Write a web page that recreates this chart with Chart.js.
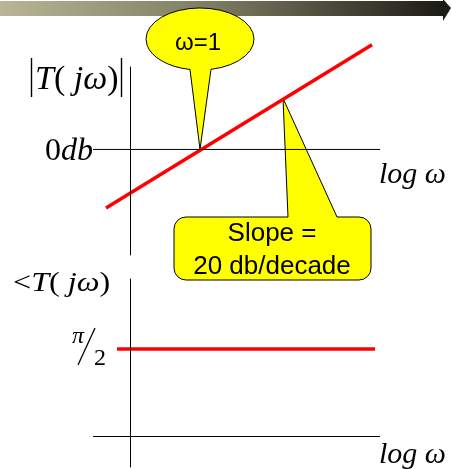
<!DOCTYPE html>
<html>
<head>
<meta charset="utf-8">
<script src="https://cdn.jsdelivr.net/npm/chart.js@4/dist/chart.umd.min.js"></script>
<style>
    html, body { margin: 0; padding: 0; background: #fff; }
    canvas { display: block; }
</style>
</head>
<body>
<canvas id="bode" width="451" height="469"></canvas>
<script>
// x is log10(omega), magnitude in dB, phase in radians
const magFreq = [-0.94, 1.72]
const magDb = [-19, 34]
const phaseFreq = [-0.83, 1.75]
const phaseRad = [1.5708, 1.5708]
//
const axisFreq = [-1.07, 1.80]
const axisZero = [0, 0]
const vertFreq = [-0.695, -0.695]
const magVertDb = [26.8, -34.3]
const phaseVertRad = [2.83, -0.55]
//
const magTickLabel = [['0', false], ['db', true]]
const magTitle = [['T', true], ['(', false], [' j\u03c9', true], [')', false]]
const phaseTitle = [['<', false], ['T', true], ['(', false], [' j\u03c9', true], [')', false]]
const freqTitle = 'log \u03c9'
const omegaCallout = { text: ['\u03c9=1'], at: [0, 0] }
const slopeCallout = { text: ['Slope =', '20 db/decade'], at: [0.83, 16.6] }

const SERIF = '"Liberation Serif", "Times New Roman", serif'
const SANS = '"Liberation Sans", Arial, sans-serif'
const RED = '#ff0000'
const YELLOW = '#ffff00'

const pts = (xs, ys) => xs.map((v, i) => ({ x: v, y: ys[i] }))

function richText(ctx, x, y, parts, size) {
    let cx = x
    for (const [text, italic] of parts) {
        ctx.font = (italic ? 'italic ' : '') + size + 'px ' + SERIF
        ctx.fillText(text, cx, y)
        cx += ctx.measureText(text).width
    }
    return cx - x
}

function line(ctx, x1, y1, x2, y2, w) {
    ctx.beginPath()
    ctx.moveTo(x1, y1)
    ctx.lineTo(x2, y2)
    ctx.lineWidth = w
    ctx.strokeStyle = '#000'
    ctx.stroke()
}

function drawBar(ctx) {
    const grad = ctx.createLinearGradient(0, 0, 443, 0)
    grad.addColorStop(0, 'rgb(184,182,150)')
    grad.addColorStop(0.5, 'rgb(122,120,95)')
    grad.addColorStop(1, 'rgb(28,28,22)')
    ctx.fillStyle = grad
    ctx.fillRect(0, 1, 444, 15)
    ctx.fillStyle = 'rgb(28,28,22)'
    ctx.beginPath()
    ctx.moveTo(443, -1)
    ctx.lineTo(451, 8)
    ctx.lineTo(443, 21)
    ctx.closePath()
    ctx.fill()
}

function drawBalloon(ctx, tip) {
    const cx = 200, cy = 39, rx = 54, ry = 31
    const a1 = Math.acos(11 / rx)
    const a2 = Math.acos(-10 / rx)
    ctx.beginPath()
    ctx.moveTo(tip[0], tip[1])
    ctx.lineTo(cx + rx * Math.cos(a1), cy + ry * Math.sin(a1))
    ctx.ellipse(cx, cy, rx, ry, 0, a1, a2, true)
    ctx.closePath()
    ctx.fillStyle = YELLOW
    ctx.fill()
    ctx.lineWidth = 1
    ctx.strokeStyle = '#000'
    ctx.stroke()
    ctx.fillStyle = '#000'
    ctx.font = '24px ' + SANS
    ctx.textAlign = 'center'
    ctx.textBaseline = 'middle'
    ctx.fillText(omegaCallout.text[0], cx - 2, cy + 4)
}

function drawBox(ctx, tip) {
    const l = 174, t = 217, r = 371, b = 280, rad = 12
    ctx.beginPath()
    ctx.moveTo(l + rad, t)
    ctx.lineTo(288, t)
    ctx.lineTo(tip[0], tip[1])
    ctx.lineTo(337, t)
    ctx.arcTo(r, t, r, b, rad)
    ctx.arcTo(r, b, l, b, rad)
    ctx.arcTo(l, b, l, t, rad)
    ctx.arcTo(l, t, r, t, rad)
    ctx.closePath()
    ctx.fillStyle = YELLOW
    ctx.fill()
    ctx.lineWidth = 1
    ctx.strokeStyle = '#000'
    ctx.stroke()
    ctx.fillStyle = '#000'
    ctx.font = '26px ' + SANS
    ctx.textAlign = 'center'
    ctx.textBaseline = 'middle'
    ctx.fillText(slopeCallout.text[0], 272, 234)
    ctx.fillText(slopeCallout.text[1], 272, 267)
}

const decorations = {
    id: 'decorations',
    beforeDatasetsDraw(chart) {
        const { ctx, scales: { x, yMag } } = chart
        ctx.save()
        drawBar(ctx)
        drawBalloon(ctx, [x.getPixelForValue(omegaCallout.at[0]), yMag.getPixelForValue(omegaCallout.at[1])])
        drawBox(ctx, [x.getPixelForValue(slopeCallout.at[0]), yMag.getPixelForValue(slopeCallout.at[1])])
        ctx.restore()
    },
    afterDatasetsDraw(chart) {
        const { ctx, scales: { x, yMag, yPhase } } = chart
        ctx.save()
        ctx.fillStyle = '#000'
        ctx.textAlign = 'left'
        ctx.textBaseline = 'alphabetic'
        //
        const axisEnd = x.getPixelForValue(axisFreq[1])
        const magZero = yMag.getPixelForValue(0)
        const phaseZero = yPhase.getPixelForValue(0)
        const halfPi = yPhase.getPixelForValue(phaseRad[0])
        // magnitude title with abs bars
        const w = richText(ctx, 35, 89, magTitle, 34)
        line(ctx, 31.5, 58, 31.5, 97, 1.4)
        line(ctx, 38 + w, 58, 38 + w, 97, 1.4)
        // phase title, a bit wider
        ctx.save()
        ctx.translate(13, 291)
        ctx.scale(1.15, 1)
        richText(ctx, 0, 0, phaseTitle, 28)
        ctx.restore()
        // tick labels
        richText(ctx, 45, magZero + 11, magTickLabel, 32)
        ctx.font = 'italic 24px ' + SERIF
        ctx.fillText('\u03c0', 72, halfPi - 6)
        ctx.font = '24px ' + SERIF
        ctx.fillText('2', 94, halfPi + 16)
        line(ctx, 78, halfPi + 16, 95, halfPi - 21, 1.3)
        // frequency axis titles
        ctx.font = 'italic 30px ' + SERIF
        ctx.fillText(freqTitle, axisEnd - 1, magZero + 34)
        ctx.fillText(freqTitle, axisEnd - 1, phaseZero + 26)
        ctx.restore()
    }
}

const redLine = { borderColor: RED, borderWidth: 3.5, pointRadius: 0, showLine: true, xAxisID: 'x' }
const axisLine = { borderColor: '#000', borderWidth: 1, pointRadius: 0, showLine: true, xAxisID: 'x' }

new Chart(document.getElementById('bode'), {
    type: 'scatter',
    data: {
        datasets: [
            { ...axisLine, label: 'mag axis', data: pts(axisFreq, axisZero), yAxisID: 'yMag' },
            { ...axisLine, label: 'mag vert', data: pts(vertFreq, magVertDb), yAxisID: 'yMag' },
            { ...axisLine, label: 'phase axis', data: pts(axisFreq, axisZero), yAxisID: 'yPhase' },
            { ...axisLine, label: 'phase vert', data: pts(vertFreq, phaseVertRad), yAxisID: 'yPhase' },
            { ...redLine, label: '|T(jw)|', data: pts(magFreq, magDb), yAxisID: 'yMag' },
            { ...redLine, label: '<T(jw)', data: pts(phaseFreq, phaseRad), yAxisID: 'yPhase' }
        ]
    },
    options: {
        responsive: false,
        animation: false,
        layout: { padding: 0 },
        scales: {
            x: { type: 'linear', min: -2, max: 2.51, display: false },
            yMag: { type: 'linear', min: -103.7, max: 48.5, display: false },
            yPhase: { type: 'linear', min: -0.5835, max: 7.837, display: false }
        },
        plugins: {
            legend: { display: false },
            tooltip: { enabled: false }
        }
    },
    plugins: [decorations]
})
</script>
</body>
</html>
